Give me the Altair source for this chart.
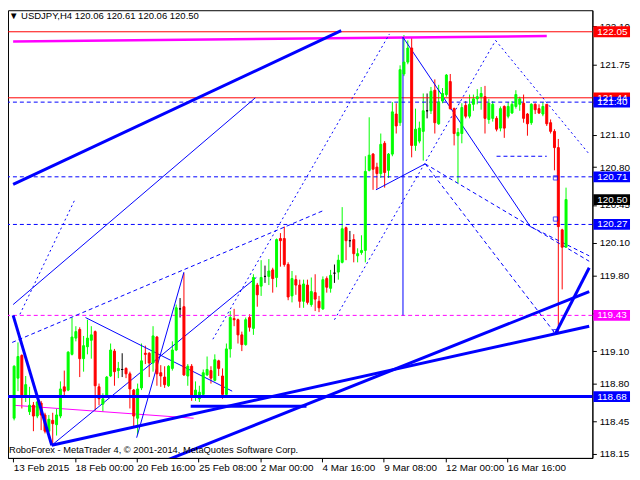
import altair as alt
import pandas as pd

# ---------------- data (USDJPY H4) ----------------
opens = [118.48,118.85,119.06,118.69,118.54,118.60,118.50,118.62,118.51,118.36,
         118.46,118.42,118.50,118.77,118.74,119.07,119.22,119.30,119.03,119.14,
         119.20,119.28,118.77,118.61,118.69,118.87,119.10,118.92,118.93,118.94,
         118.89,118.74,118.48,118.76,119.08,119.08,118.99,119.23,118.90,118.86,
         118.78,118.94,119.11,119.49,119.51,118.87,118.96,118.68,118.66,118.70,
         118.88,118.92,118.83,119.01,118.87,118.70,119.12,119.40,119.39,119.25,
         119.16,119.41,119.31,119.71,119.70,119.79,119.79,119.85,119.78,120.14,
         120.14,119.90,119.61,119.76,119.71,119.56,119.71,119.53,119.64,119.56,
         119.49,119.77,119.68,119.82,119.83,119.92,120.24,120.12,120.13,119.98,
         120.01,120.03,120.77,120.92,120.80,120.74,121.02,120.77,120.92,121.29,
         121.21,121.66,121.77,121.90,121.00,121.04,121.13,121.32,121.32,121.51,
         121.20,121.41,121.47,121.59,121.34,121.09,121.11,121.37,121.27,121.38,
         121.43,121.45,121.45,121.24,121.25,121.25,121.16,121.36,121.27,121.30,
         121.36,121.38,121.39,121.29,121.21,121.38,121.34,121.29,121.38,121.21,
         121.13,120.98,120.22,120.06]
highs = [118.97,119.18,119.07,118.87,118.77,118.63,118.64,118.64,118.53,118.51,
         118.53,118.57,118.82,118.92,119.10,119.41,119.33,119.32,119.24,119.39,
         119.33,119.29,118.80,118.71,118.87,119.17,119.12,119.00,119.08,118.95,
         118.91,118.75,118.80,119.17,119.15,119.09,119.33,119.24,118.97,118.96,
         118.97,119.19,119.53,119.59,119.82,118.98,118.98,118.82,118.78,118.93,
         119.05,118.96,119.07,119.02,118.94,119.17,119.47,119.49,119.40,119.28,
         119.41,119.44,119.81,119.73,119.94,119.89,119.95,119.87,120.14,120.19,
         120.25,119.92,119.84,119.80,119.76,119.76,119.76,119.78,119.81,119.61,
         119.79,119.79,119.85,119.90,119.99,120.43,120.25,120.21,120.18,120.05,
         120.17,120.90,121.26,120.93,120.84,121.11,121.04,120.93,121.40,121.39,
         121.74,122.02,121.97,122.00,121.34,121.22,121.48,121.48,121.54,121.61,
         121.56,121.53,121.66,121.66,121.35,121.16,121.39,121.41,121.47,121.47,
         121.52,121.54,121.55,121.43,121.41,121.27,121.36,121.37,121.40,121.41,
         121.51,121.45,121.47,121.30,121.39,121.39,121.38,121.40,121.38,121.24,
         121.15,121.06,120.23,120.61]
lows = [118.46,118.73,118.57,118.63,118.51,118.36,118.48,118.37,118.34,118.31,
        118.23,118.32,118.48,118.69,118.73,119.06,119.19,118.86,118.91,119.07,
        119.03,118.55,118.60,118.54,118.68,118.86,118.78,118.85,118.86,118.85,
        118.57,118.39,118.33,118.74,118.98,118.86,118.91,118.78,118.77,118.76,
        118.77,118.92,119.10,119.41,118.87,118.78,118.64,118.64,118.63,118.69,
        118.87,118.80,118.82,118.87,118.66,118.69,119.04,119.33,119.17,119.10,
        119.15,119.28,119.25,119.51,119.61,119.73,119.71,119.64,119.69,119.88,
        119.88,119.57,119.55,119.62,119.50,119.50,119.53,119.51,119.47,119.46,
        119.48,119.64,119.64,119.73,119.76,119.91,119.94,120.06,119.92,119.92,
        119.99,119.92,120.76,120.59,120.60,120.70,120.61,120.70,120.90,121.11,
        121.18,121.64,121.75,120.89,120.95,121.02,120.86,121.25,121.29,121.11,
        121.19,121.39,121.45,121.33,121.00,120.65,121.02,121.25,121.25,121.32,
        121.38,121.33,121.11,121.20,121.22,121.13,121.13,121.07,121.25,121.29,
        121.34,121.32,121.21,121.09,121.19,121.29,121.29,121.27,121.18,121.11,
        120.77,119.26,119.67,120.06]
closes = [118.96,119.05,118.68,118.79,118.60,118.50,118.63,118.51,118.36,118.47,
          118.43,118.51,118.75,118.73,119.09,119.23,119.28,119.03,119.15,119.22,
          119.25,118.78,118.66,118.66,118.86,119.11,118.91,118.94,118.93,118.89,
          118.75,118.50,118.75,119.01,119.07,118.99,119.24,118.89,118.87,118.79,
          118.96,119.11,119.50,119.49,118.88,118.96,118.69,118.74,118.72,118.90,
          118.93,118.85,119.02,118.94,118.70,119.12,119.41,119.39,119.25,119.16,
          119.39,119.32,119.78,119.62,119.78,119.79,119.84,119.77,120.13,120.12,
          119.90,119.60,119.77,119.71,119.56,119.72,119.55,119.65,119.58,119.50,
          119.76,119.69,119.80,119.82,119.94,120.23,120.12,120.12,120.00,120.00,
          120.03,120.76,120.91,120.78,120.74,121.01,120.75,120.92,121.31,121.18,
          121.70,121.77,121.90,121.00,121.15,121.16,121.32,121.32,121.50,121.21,
          121.40,121.48,121.65,121.34,121.11,121.12,121.35,121.27,121.38,121.43,
          121.45,121.48,121.25,121.39,121.38,121.15,121.34,121.16,121.36,121.38,
          121.47,121.43,121.25,121.20,121.38,121.33,121.30,121.36,121.20,121.13,
          120.98,120.25,120.06,120.50]

x_tick_bars = [-0.25, 15.75, 31.75, 47.75, 63.75, 79.75, 95.75, 111.75, 127.75]
x_tick_labels = ["13 Feb 2015", "18 Feb 00:00", "20 Feb 16:00", "25 Feb 08:00",
                 "2 Mar 00:00", "4 Mar 16:00", "9 Mar 08:00", "12 Mar 00:00",
                 "16 Mar 16:00"]
y_ticks = [122.10, 121.75, 121.40, 121.10, 120.80, 120.45, 120.10, 119.80,
           119.45, 119.10, 118.80, 118.45, 118.15]
y_ticks_hidden = [121.40, 119.45]   # fully covered by price tags in the terminal

# horizontal levels
level_prices = [122.05, 121.44, 121.40, 120.71, 120.27, 119.43, 118.68]
level_colors = ["#ff0000", "#ff0000", "#0000ff", "#0000ff", "#0000ff", "#ff00ff", "#0000ff"]
level_kinds = ["solid", "solid", "dash", "dash", "dash", "dash", "thick"]

# price tags on the axis
tag_prices = [122.05, 121.44, 121.40, 120.71, 120.50, 120.27, 119.43, 118.68]
tag_texts = ["122.05", "121.44", "121.40", "120.71", "120.50", "120.27", "119.43", "118.68"]
tag_colors = ["#ff0000", "#ff0000", "#0000ff", "#0000ff", "#000000", "#0000ff", "#ff00ff", "#0000ff"]

# trend-line objects: (bar1, price1, bar2, price2)
thick_lines = [(-0.25, 120.64, 84.75, 122.06), (-0.25, 119.43, 9.75, 118.23),
               (9.75, 118.23, 149, 119.33), (39.75, 118.095, 149, 119.65),
               (140.25, 119.26, 149, 119.87), (45.75, 118.59, 75.75, 118.59)]
thin_lines = [(-0.25, 119.53, 62.5, 121.44), (18.5, 119.41, 56.5, 118.73),
              (31.75, 118.30, 44, 119.83), (9.75, 118.23, 62.75, 119.78),
              (100.75, 122.00, 133.75, 120.25), (100.75, 122.00, 100.75, 119.43),
              (93.75, 120.59, 106.5, 120.83)]
dashed_lines = [(-0.5, 119.18, 80.25, 120.40), (133.75, 120.25, 149, 119.98),
                (106.5, 120.83, 140.25, 119.26), (106.5, 120.83, 149, 119.93),
                (125, 120.90, 138, 120.90)]
dotted_lines = [(1.5, 119.44, 15.75, 120.50), (51.5, 119.21, 97.25, 122.03),
                (83, 119.39, 124.75, 121.97), (124.75, 121.97, 149, 120.92)]
magenta_thick = [(-0.25, 121.96, 138, 122.01)]
magenta_thin = [(-0.25, 118.60, 46.5, 118.48)]
marker_bars = [140.25, 140.25, 140.25]
marker_prices = [120.70, 120.32, 119.28]

header_text = "\u25bc USDJPY,H4  120.06 120.61 120.06 120.50"
footer_text = "RoboForex - MetaTrader 4, \u00a9 2001-2014, MetaQuotes Software Corp."

# ---------------- chart ----------------
W, H = 590, 452
FONT = "Liberation Sans"
xs = alt.Scale(domain=[-0.3, 148.54], nice=False, zero=False)
ys = alt.Scale(domain=[118.113, 122.249], nice=False, zero=False)

df = pd.DataFrame({"i": list(range(len(opens))), "o": opens, "h": highs, "l": lows, "c": closes})
df["col"] = ["#00ff00" if c > o else ("#ff0000" if c < o else "#000000") for o, c in zip(opens, closes)]

lbl_js = ("[" + ",".join("'%s'" % s for s in x_tick_labels) + "]"
          "[round((datum.value + 0.25) / 16)]")
hide_js = " || ".join("abs(datum.value - %s) < 0.001" % v for v in y_ticks_hidden)
ylbl_js = "(%s) ? '' : format(datum.value, '.2f')" % hide_js

xaxis = alt.Axis(values=x_tick_bars, labelExpr=lbl_js, grid=False, domainColor="black",
                 tickColor="black", tickSize=4, labelAlign="left", labelBaseline="top",
                 labelPadding=1, labelFont=FONT, labelFontSize=10, labelColor="black",
                 labelFlush=False, labelOverlap=False, title=None)
yaxis = alt.Axis(values=y_ticks, labelExpr=ylbl_js, orient="right", grid=False,
                 domainColor="black", tickColor="black", tickSize=4, labelPadding=3,
                 labelFont=FONT, labelFontSize=10, labelColor="black", labelOverlap=False,
                 labelFlush=False, title=None)


def X(field):
    return alt.X(field, scale=xs, axis=xaxis)


def Y(field):
    return alt.Y(field, scale=ys, axis=yaxis)


wicks = alt.Chart(df).mark_rule(strokeWidth=1).encode(
    x=X("i:Q"), y=Y("l:Q"), y2="h:Q",
    color=alt.Color("col:N", scale=None),
)
bodies = alt.Chart(df).mark_bar(size=2, strokeWidth=1).encode(
    x=X("i:Q"), y=Y("o:Q"), y2="c:Q",
    color=alt.Color("col:N", scale=None),
    stroke=alt.Stroke("col:N", scale=None),
)


def seg_df(segs):
    return pd.DataFrame(segs, columns=["x1", "p1", "x2", "p2"])


def seg_layer(segs, color, width, dash=None):
    kw = dict(strokeWidth=width, color=color, clip=True)
    if dash:
        kw["strokeDash"] = dash
    return alt.Chart(seg_df(segs)).mark_rule(**kw).encode(
        x=X("x1:Q"), x2="x2:Q", y=Y("p1:Q"), y2="p2:Q")


lv = pd.DataFrame({"p": level_prices, "col": level_colors, "kind": level_kinds})
levels_solid = alt.Chart(lv[lv.kind == "solid"]).mark_rule(strokeWidth=1).encode(
    y=Y("p:Q"), color=alt.Color("col:N", scale=None))
levels_dash = alt.Chart(lv[lv.kind == "dash"]).mark_rule(strokeWidth=1, strokeDash=[4, 3]).encode(
    y=Y("p:Q"), color=alt.Color("col:N", scale=None))
levels_thick = alt.Chart(lv[lv.kind == "thick"]).mark_rule(strokeWidth=3).encode(
    y=Y("p:Q"), color=alt.Color("col:N", scale=None))

markers = alt.Chart(pd.DataFrame({"i": marker_bars, "p": marker_prices})).mark_point(
    shape="square", filled=False, size=18, color="#0000ff", strokeWidth=1).encode(
    x=X("i:Q"), y=Y("p:Q"))

tags = pd.DataFrame({"p": tag_prices, "txt": tag_texts, "bg": tag_colors})
tag_boxes = alt.Chart(tags).transform_calculate(
    top="datum.p + 0.05", bot="datum.p - 0.05").mark_rect().encode(
    x=alt.value(W + 1), x2=alt.value(W + 38),
    y=Y("top:Q"), y2="bot:Q",
    color=alt.Color("bg:N", scale=None))
tag_text = alt.Chart(tags).mark_text(align="left", baseline="middle", color="white",
                                     font=FONT, fontSize=10).encode(
    x=alt.value(W + 5), y=Y("p:Q"), text="txt:N")

header = alt.Chart(pd.DataFrame({"t": [header_text]})).mark_text(
    align="left", baseline="top", font=FONT, fontSize=9.6, color="black").encode(
    x=alt.value(1), y=alt.value(1), text="t:N")
footer = alt.Chart(pd.DataFrame({"t": [footer_text]})).mark_text(
    align="left", baseline="middle", font=FONT, fontSize=9.4, color="black").encode(
    x=alt.value(1), y=alt.value(H - 8), text="t:N")

chart = alt.layer(
    wicks,
    levels_solid, levels_dash,
    seg_layer(magenta_thick, "#ff00ff", 2.5),
    seg_layer(magenta_thin, "#ff00ff", 1),
    seg_layer(dotted_lines, "#0000ff", 1, [2, 3]),
    seg_layer(dashed_lines, "#0000ff", 1, [4, 3]),
    seg_layer(thin_lines, "#0000ff", 1),
    bodies,
    levels_thick,
    seg_layer(thick_lines, "#0000ff", 3),
    markers,
    tag_boxes, tag_text,
    header, footer,
).properties(
    width=W, height=H, background="white",
    autosize=alt.AutoSizeParams(type="none"),
    padding={"left": 0, "top": 0, "right": 40, "bottom": 18},
).configure_view(stroke="black", strokeWidth=1)

chart.save("out.html", embed_options={"renderer": "svg", "actions": False})
